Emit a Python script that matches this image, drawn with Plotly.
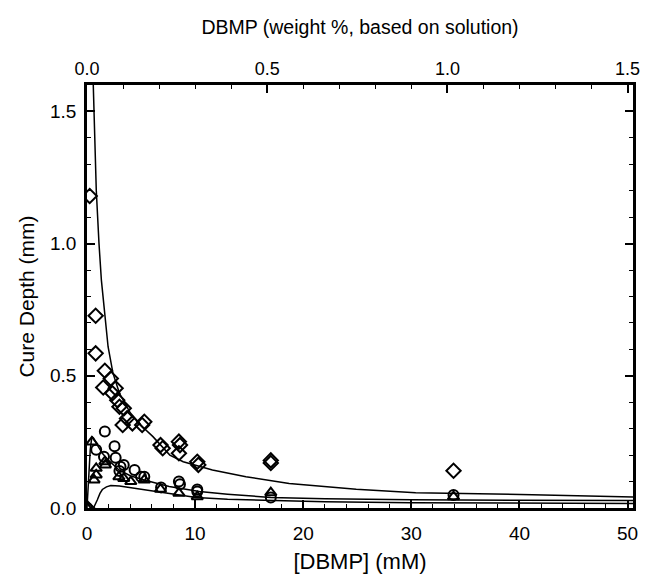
import plotly.graph_objects as go

# ---- data ----
diamond_x = [0, 0.25, 0.8, 0.8, 1.5, 1.65, 2.2, 2.35, 2.65, 2.8, 3.0, 3.4, 3.7, 3.3, 4.2, 5.1, 5.3,
             6.8, 7.0, 8.5, 8.6, 8.5, 10.2, 10.3, 17.0, 17.0, 33.9]
diamond_y = [0, 1.18, 0.727, 0.585, 0.456, 0.519, 0.49, 0.434, 0.453, 0.408, 0.383, 0.377, 0.339,
             0.314, 0.32, 0.314, 0.326, 0.238, 0.226, 0.251, 0.238, 0.207, 0.175, 0.163, 0.18, 0.17, 0.141]

circle_x = [0, 0.85, 1.65, 1.57, 2.55, 2.65, 3.1, 3.4, 3.0, 4.4, 5.0, 5.3, 6.85, 8.5, 8.6, 10.2, 10.2, 17.0, 33.9]
circle_y = [0, 0.22, 0.289, 0.194, 0.234, 0.19, 0.156, 0.163, 0.14, 0.144, 0.118, 0.118, 0.078, 0.1,
            0.09, 0.07, 0.062, 0.04, 0.049]

triangle_x = [0, 0.45, 0.85, 0.85, 0.65, 1.7, 1.65, 2.95, 3.4, 4.05, 5.3, 6.8, 8.5, 10.2, 17.0, 33.9]
triangle_y = [0, 0.25, 0.15, 0.125, 0.106, 0.163, 0.175, 0.118, 0.112, 0.1, 0.106, 0.071, 0.056,
              0.043, 0.058, 0.043]

upper_fit_x = [0.58, 0.86, 1.11, 1.33, 1.64, 1.95, 2.4, 3.0, 4.0, 5.1, 6.1, 7.66, 8.9, 11.6, 14.7,
               18.7, 24.9, 30.4, 41.2, 50.5]
upper_fit_y = [1.6, 1.2, 1.0, 0.862, 0.736, 0.61, 0.51, 0.434, 0.36, 0.308, 0.27, 0.2, 0.175, 0.144,
               0.118, 0.093, 0.071, 0.058, 0.05, 0.042]

middle_fit_x = [0.0, 0.15, 0.3, 0.45, 0.6, 1.0, 1.42, 2.0, 2.96, 4.0, 5.28, 7.6, 10.4, 13, 17, 22, 30, 40, 50.5]
middle_fit_y = [0.0, 0.12, 0.22, 0.27, 0.265, 0.235, 0.207, 0.18, 0.144, 0.122, 0.106, 0.081, 0.062,
                0.052, 0.04, 0.035, 0.031, 0.029, 0.028]

lower_fit_x = [0.6, 0.75, 0.95, 1.2, 1.42, 1.8, 2.2, 3.0, 4.5, 6.4, 8.5, 10.1, 13, 17, 22, 30, 40, 50.5]
lower_fit_y = [0.0, 0.012, 0.03, 0.055, 0.07, 0.08, 0.085, 0.083, 0.074, 0.062, 0.049, 0.04, 0.033,
               0.028, 0.024, 0.02, 0.018, 0.017]

x_range_mM = [0, 50.5]
x_range_wt = [0, 1.515]
y_range = [0, 1.6]

FONT = "Liberation Sans, Arial, sans-serif"

fig = go.Figure()

for fx, fy in [(upper_fit_x, upper_fit_y), (middle_fit_x, middle_fit_y), (lower_fit_x, lower_fit_y)]:
    fig.add_trace(go.Scatter(x=fx, y=fy, mode="lines", line=dict(color="black", width=1.5),
                             showlegend=False, hoverinfo="skip"))

fig.add_trace(go.Scatter(x=diamond_x, y=diamond_y, mode="markers", showlegend=False,
                         marker=dict(symbol="diamond-open", size=11, color="black",
                                     line=dict(color="black", width=2))))
fig.add_trace(go.Scatter(x=circle_x, y=circle_y, mode="markers", showlegend=False,
                         marker=dict(symbol="circle-open", size=10, color="black",
                                     line=dict(color="black", width=2))))
fig.add_trace(go.Scatter(x=triangle_x, y=triangle_y, mode="markers", showlegend=False,
                         marker=dict(symbol="triangle-up-open", size=10, color="black",
                                     line=dict(color="black", width=2))))

# invisible trace so the top (weight %) axis is drawn
fig.add_trace(go.Scatter(x=[0], y=[0], xaxis="x2", mode="markers", marker=dict(opacity=0),
                         showlegend=False, hoverinfo="skip"))

axis_common = dict(showgrid=False, zeroline=False, showline=True, linecolor="black", linewidth=2.5,
                   ticks="inside", ticklen=8, tickwidth=1.5, tickcolor="black", automargin=False)

# the page body adds an 8 px offset; margins compensate for it
fig.update_layout(
    width=648, height=566,
    margin=dict(l=79, r=23, t=77, b=66, pad=0),
    paper_bgcolor="white", plot_bgcolor="white",
    font=dict(family=FONT, size=18, color="black"),
    xaxis=dict(range=x_range_mM, dtick=10, tick0=0, ticklabelstandoff=6,
               tickfont=dict(family=FONT, size=19, color="black"),
               minor=dict(dtick=2, ticks="inside", ticklen=4, tickcolor="black", tickwidth=1.2),
               title=dict(text="[DBMP] (mM)", font=dict(family=FONT, size=22), standoff=18),
               mirror=False, **axis_common),
    xaxis2=dict(range=x_range_wt, overlaying="x", side="top", dtick=0.5, tick0=0, tickformat=".1f",
                tickfont=dict(family=FONT, size=18, color="black"),
                minor=dict(dtick=0.1, ticks="inside", ticklen=4, tickcolor="black", tickwidth=1.2),
                title=dict(text="DBMP (weight %, based on solution)", font=dict(family=FONT, size=19.5),
                           standoff=20),
                **axis_common),
    yaxis=dict(range=y_range, dtick=0.5, tick0=0, tickformat=".1f", ticklabelstandoff=4,
               tickfont=dict(family=FONT, size=19, color="black"),
               minor=dict(dtick=0.1, ticks="inside", ticklen=4, tickcolor="black", tickwidth=1.2),
               title=dict(text="Cure Depth (mm)", font=dict(family=FONT, size=21), standoff=10),
               mirror="ticks", **axis_common),
)

fig.write_html("out.html")
